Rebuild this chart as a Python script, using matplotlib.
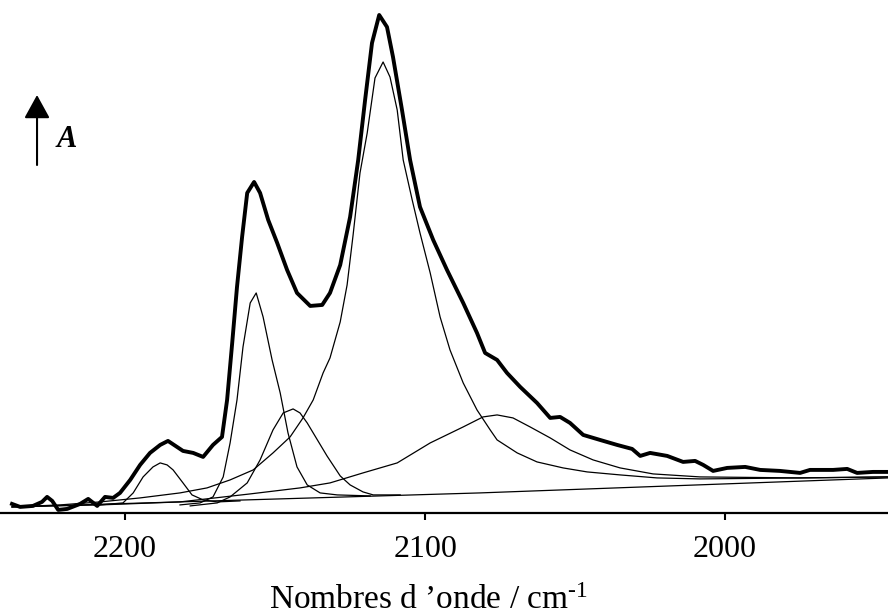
import matplotlib.pyplot as plt

plt.rcParams['font.family'] = 'Liberation Serif'
plt.rcParams['mathtext.fontset'] = 'custom'
plt.rcParams['mathtext.rm'] = 'Liberation Serif'
plt.rcParams['mathtext.it'] = 'Liberation Serif:italic'

# spectre experimental (nombre d'onde en cm-1, absorbance en u.a.)
nu_exp = [2237.7, 2235.0, 2230.7, 2227.7, 2226.0, 2224.3, 2222.3, 2219.3, 2215.0, 2212.3,
          2209.3, 2206.7, 2204.0, 2201.7, 2198.3, 2195.0, 2191.7, 2188.3, 2185.7, 2182.7,
          2180.7, 2177.3, 2174.0, 2170.7, 2167.7, 2166.0, 2164.3, 2162.7, 2161.0, 2159.3,
          2157.0, 2155.0, 2152.3, 2149.3, 2146.0, 2142.7, 2138.3, 2134.3, 2131.7, 2128.3,
          2125.0, 2122.3, 2120.0, 2117.7, 2115.3, 2112.7, 2110.7, 2107.7, 2105.0, 2101.7,
          2097.3, 2092.7, 2087.3, 2082.7, 2080.0, 2076.0, 2072.7, 2068.3, 2062.7, 2058.3,
          2055.0, 2051.7, 2047.3, 2041.7, 2036.0, 2031.0, 2028.3, 2025.0, 2019.3, 2014.0,
          2010.0, 2007.3, 2004.0, 1999.3, 1993.3, 1988.3, 1981.7, 1975.0, 1971.7, 1964.0,
          1959.3, 1956.0, 1950.7, 1946.0]
a_exp = [0.018, 0.012, 0.014, 0.022, 0.032, 0.024, 0.006, 0.008, 0.018, 0.028,
         0.014, 0.032, 0.030, 0.040, 0.066, 0.096, 0.120, 0.136, 0.144, 0.132,
         0.124, 0.120, 0.112, 0.136, 0.152, 0.226, 0.340, 0.452, 0.552, 0.640,
         0.662, 0.640, 0.586, 0.540, 0.486, 0.440, 0.414, 0.416, 0.440, 0.496,
         0.592, 0.706, 0.826, 0.940, 0.996, 0.972, 0.912, 0.806, 0.706, 0.612,
         0.546, 0.486, 0.420, 0.360, 0.320, 0.306, 0.280, 0.252, 0.220, 0.190,
         0.192, 0.180, 0.156, 0.146, 0.136, 0.128, 0.114, 0.120, 0.114, 0.102,
         0.104, 0.096, 0.084, 0.090, 0.092, 0.086, 0.084, 0.080, 0.086, 0.086,
         0.088, 0.080, 0.082, 0.082]

# ligne de base
nu_base = [2237.7, 2081.7, 1945.7]
a_base = [0.012, 0.040, 0.070]

# bandes de decomposition
nu_b1 = [2208.3, 2200.7, 2197.3, 2194.0, 2190.7, 2188.3, 2186.0, 2184.0, 2180.7, 2177.7,
         2174.0, 2169.3, 2161.7]
a_b1 = [0.016, 0.020, 0.040, 0.072, 0.092, 0.100, 0.096, 0.086, 0.060, 0.036,
        0.026, 0.022, 0.024]

nu_b2 = [2181.7, 2175.0, 2170.7, 2167.3, 2165.0, 2162.7, 2160.7, 2158.3, 2156.3, 2154.0,
         2151.0, 2148.3, 2145.7, 2142.7, 2139.3, 2135.0, 2129.3, 2118.3]
a_b2 = [0.016, 0.020, 0.032, 0.072, 0.140, 0.226, 0.332, 0.420, 0.440, 0.392,
        0.306, 0.240, 0.160, 0.092, 0.056, 0.040, 0.036, 0.034]

nu_b3 = [2178.3, 2169.3, 2165.0, 2159.3, 2155.0, 2150.7, 2147.3, 2144.0, 2141.7, 2139.3,
         2137.3, 2132.7, 2128.3, 2125.0, 2120.7, 2117.3, 2108.3]
a_b3 = [0.014, 0.020, 0.032, 0.060, 0.106, 0.166, 0.200, 0.208, 0.200, 0.180,
        0.160, 0.114, 0.074, 0.056, 0.042, 0.036, 0.036]

nu_b4 = [2237.7, 2221.7, 2208.3, 2195.0, 2181.7, 2172.7, 2165.0, 2157.3, 2150.7, 2145.0,
         2140.7, 2137.3, 2134.0, 2131.7, 2128.3, 2126.0, 2124.0, 2121.7, 2119.3, 2116.7,
         2114.0, 2111.7, 2109.3, 2107.3, 2104.3, 2101.7, 2098.3, 2095.0, 2091.7, 2087.3,
         2082.7, 2078.3, 2076.0, 2069.3, 2062.7, 2054.0, 2046.0, 2035.0, 2022.7, 2008.3,
         1975.0, 1945.7]
a_b4 = [0.012, 0.016, 0.022, 0.030, 0.040, 0.050, 0.066, 0.086, 0.120, 0.152,
        0.190, 0.226, 0.280, 0.310, 0.382, 0.456, 0.556, 0.680, 0.760, 0.870,
        0.902, 0.872, 0.806, 0.706, 0.626, 0.560, 0.480, 0.392, 0.326, 0.260,
        0.206, 0.166, 0.146, 0.120, 0.102, 0.090, 0.082, 0.076, 0.070, 0.068,
        0.070, 0.072]

nu_b5 = [2237.7, 2208.3, 2181.7, 2158.3, 2141.7, 2131.7, 2120.7, 2109.3, 2098.3, 2087.3,
         2080.7, 2076.0, 2070.7, 2065.0, 2058.3, 2051.7, 2044.0, 2035.0, 2024.0, 2008.3,
         1975.0, 1945.7]
a_b5 = [0.012, 0.016, 0.022, 0.038, 0.050, 0.060, 0.080, 0.100, 0.140, 0.172,
        0.192, 0.196, 0.190, 0.172, 0.150, 0.126, 0.106, 0.090, 0.078, 0.072,
        0.070, 0.072]

ticks = [2200, 2100, 2000]

fig = plt.figure(figsize=(8.88, 6.15), dpi=100)
ax = fig.add_axes([0, 0.166, 1, 0.834])

ax.plot(nu_base, a_base, color='black', lw=0.9)
for nu, a in [(nu_b1, a_b1), (nu_b2, a_b2), (nu_b3, a_b3), (nu_b4, a_b4), (nu_b5, a_b5)]:
    ax.plot(nu, a, color='black', lw=0.9)
ax.plot(nu_exp, a_exp, color='black', lw=2.8, solid_joinstyle='round')

ax.set_xlim(2241.7, 1945.7)
ax.set_ylim(0, 1.026)
ax.set_xticks(ticks)
ax.set_xticklabels([str(t) for t in ticks])
ax.set_yticks([])
for s in ['left', 'right', 'top']:
    ax.spines[s].set_visible(False)
ax.spines['bottom'].set_linewidth(1.6)
ax.tick_params(axis='x', direction='out', length=5, width=1.5, labelsize=23, pad=11)
ax.set_xlabel('Nombres d \u2019onde / cm$^{\\text{-1}}$', fontsize=24, labelpad=15)
ax.xaxis.label.set_x(0.482)

# fleche A
ax.annotate('', xy=(0.0417, 0.8455), xycoords='figure fraction',
            xytext=(0.0417, 0.7317), textcoords='figure fraction',
            arrowprops=dict(arrowstyle='-|>,head_length=0.4,head_width=0.22',
                            mutation_scale=36, lw=1.5, color='black',
                            shrinkA=0, shrinkB=0))
fig.text(0.0755, 0.7724, 'A', fontsize=22, style='italic', weight='bold',
         ha='center', va='center')

fig.savefig('out.png', dpi=100)
